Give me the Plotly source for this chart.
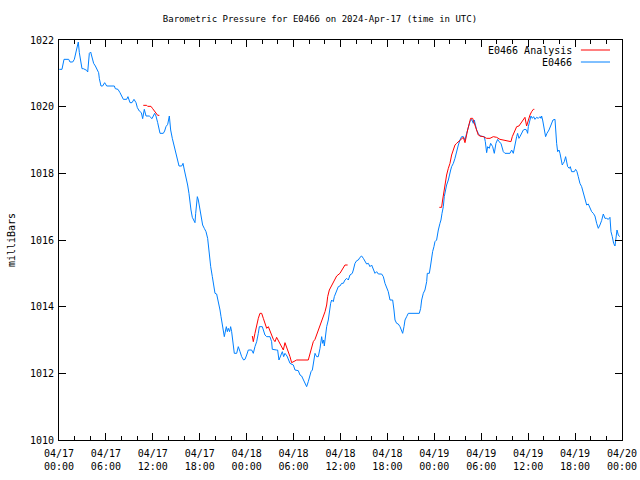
import pandas as pd
import plotly.graph_objects as go

# ---------------- data ----------------
start = pd.Timestamp("2024-04-17 00:00")

obs_hours = [0.04, 0.38, 0.64, 1.24, 1.41, 1.75, 1.96, 2.17, 2.34, 2.47, 2.6, 2.81, 2.94, 3.11, 3.24, 3.54, 3.67,
             3.75, 3.88, 4.05, 4.22, 4.43, 4.65, 4.86, 5.07, 5.16, 5.37, 5.58, 5.84, 6.1, 7.08, 7.2, 7.54, 7.8,
             8.06, 8.23, 8.65, 8.82, 9.08, 9.34, 9.59, 9.85, 10.02, 10.27, 10.53, 10.7, 10.91, 11.13, 11.55,
             11.89, 12.23, 12.4, 12.62, 12.83, 12.92, 13.34, 13.51, 13.68, 13.9, 14.11, 14.28, 14.49, 14.71,
             14.92, 15.13, 15.35, 15.69, 15.86, 16.03, 16.24, 16.45, 16.62, 16.75, 16.88, 17.05, 17.26, 17.39,
             17.48, 17.6, 17.69, 17.82, 18.03, 18.16, 18.37, 18.58, 18.8, 19.01, 19.1, 19.22, 19.4, 19.61,
             19.82, 19.95, 20.16, 20.29, 20.46, 20.59, 20.72, 20.89, 21.01, 21.14, 21.31, 21.4, 21.53, 21.65,
             21.82, 21.95, 22.08, 22.21, 22.34, 22.42, 22.72, 22.85, 22.93, 23.15, 23.36, 23.61, 23.79, 24.0,
             24.21, 24.64, 24.85, 25.06, 25.28, 25.49, 25.62, 26.0, 26.13, 26.34, 26.56, 26.98, 27.19, 27.28,
             27.83, 27.96, 28.13, 28.39, 28.56, 28.73, 28.9, 29.16, 29.33, 29.54, 29.97, 30.18, 30.6, 30.82,
             31.03, 31.24, 31.46, 31.67, 31.88, 32.1, 32.23, 32.4, 32.57, 32.74, 32.95, 33.16, 33.38, 33.59,
             33.72, 33.85, 33.93, 34.02, 34.1, 34.23, 34.44, 34.57, 34.74, 34.87, 35.08, 35.21, 35.38, 35.51,
             35.72, 35.93, 36.15, 36.36, 36.57, 36.79, 37.0, 37.21, 37.51, 37.64, 37.85, 38.07, 38.28, 38.49,
             38.7, 38.92, 39.13, 39.34, 39.56, 39.77, 39.98, 40.2, 40.41, 40.62, 40.84, 41.26, 41.48, 41.69,
             41.9, 42.11, 42.33, 42.67, 42.84, 42.97, 43.18, 43.39, 43.61, 43.82, 43.95, 44.12, 44.25, 44.46,
             44.67, 46.08, 46.25, 46.38, 46.59, 46.8, 47.02, 47.1, 47.36, 47.53, 47.66, 47.78, 47.95, 48.08,
             48.29, 48.38, 48.51, 48.72, 48.85, 48.98, 49.15, 49.27, 49.4, 49.57, 49.79, 49.92, 50.09, 50.21,
             50.43, 50.64, 50.85, 51.07, 51.28, 51.49, 51.71, 51.92, 52.13, 52.34, 52.56, 52.77, 52.98, 53.11,
             53.24, 53.41, 53.62, 53.84, 54.39, 54.52, 54.69, 54.82, 55.03, 55.2, 55.46, 55.67, 55.88, 56.1,
             56.27, 56.52, 56.82, 57.03, 57.67, 57.89, 58.1, 58.31, 58.53, 58.65, 58.82, 58.95, 59.16, 59.38,
             59.59, 59.8, 59.93, 60.02, 60.23, 60.36, 60.53, 60.7, 60.87, 61.08, 61.3, 61.51, 61.64, 61.72,
             61.85, 61.98, 62.15, 62.23, 62.4, 62.66, 62.92, 63.17, 63.43, 63.51, 63.64, 63.77, 63.94, 64.07,
             64.19, 64.36, 64.49, 64.62, 64.79, 64.92, 65.05, 65.26, 65.39, 65.56, 65.9, 66.07, 66.24, 66.41,
             66.62, 66.84, 67.05, 67.26, 67.48, 67.69, 67.9, 68.12, 68.33, 68.54, 68.76, 68.97, 69.18, 69.39,
             69.61, 69.82, 70.03, 70.25, 70.46, 70.59, 70.76, 70.93, 71.1, 71.23, 71.36, 71.53, 71.7]

obs_mb = [1021.12, 1021.12, 1021.42, 1021.42, 1021.34, 1021.34, 1021.42, 1021.62, 1021.82, 1021.94, 1021.62,
          1021.27, 1021.14, 1021.14, 1021.12, 1021.09, 1021.04, 1021.42, 1021.6, 1021.64, 1021.44, 1021.3,
          1021.22, 1021.12, 1021.02, 1020.84, 1020.62, 1020.62, 1020.72, 1020.62, 1020.62, 1020.54, 1020.52,
          1020.42, 1020.32, 1020.22, 1020.22, 1020.3, 1020.12, 1020.12, 1020.22, 1020.12, 1019.97, 1019.87,
          1019.82, 1019.64, 1019.92, 1019.72, 1019.72, 1019.64, 1019.8, 1019.72, 1019.52, 1019.32, 1019.2,
          1019.2, 1019.27, 1019.4, 1019.47, 1019.72, 1019.3, 1019.05, 1018.85, 1018.65, 1018.45, 1018.22,
          1018.22, 1018.3, 1018.1, 1017.9, 1017.65, 1017.4, 1017.1, 1016.9, 1016.68, 1016.6, 1016.52, 1016.8,
          1017.15, 1017.3, 1017.2, 1016.9, 1016.62, 1016.45, 1016.35, 1016.25, 1016.05, 1015.8, 1015.5,
          1015.2, 1014.9, 1014.6, 1014.4, 1014.38, 1014.25, 1014.1, 1013.9, 1013.7, 1013.5, 1013.35, 1013.1,
          1013.3, 1013.4, 1013.25, 1013.35, 1013.25, 1013.4, 1013.25, 1013.0, 1012.8, 1012.6, 1012.6,
          1012.75, 1012.8, 1012.65, 1012.5, 1012.4, 1012.42, 1012.55, 1012.7, 1012.7, 1012.6, 1012.8,
          1012.95, 1013.2, 1013.4, 1013.4, 1013.3, 1013.15, 1013.1, 1013.1, 1012.95, 1012.72, 1012.7,
          1012.7, 1012.4, 1012.58, 1012.65, 1012.5, 1012.6, 1012.52, 1012.4, 1012.3, 1012.25, 1012.1,
          1012.08, 1011.95, 1011.92, 1011.8, 1011.7, 1011.6, 1011.75, 1011.95, 1012.05, 1012.1, 1012.4,
          1012.6, 1012.5, 1012.5, 1012.75, 1013.1, 1012.9, 1013.0, 1012.82, 1013.0, 1013.2, 1013.4, 1013.6,
          1013.9, 1014.1, 1014.2, 1014.15, 1014.3, 1014.4, 1014.5, 1014.6, 1014.62, 1014.7, 1014.7, 1014.8,
          1014.85, 1014.8, 1014.95, 1015.0, 1015.1, 1015.3, 1015.38, 1015.4, 1015.48, 1015.52, 1015.45,
          1015.38, 1015.28, 1015.3, 1015.2, 1015.25, 1015.12, 1015.0, 1015.05, 1014.98, 1014.98, 1014.9,
          1014.7, 1014.55, 1014.45, 1014.2, 1014.2, 1013.9, 1013.6, 1013.5, 1013.48, 1013.4, 1013.3, 1013.2,
          1013.4, 1013.6, 1013.7, 1013.8, 1013.8, 1013.95, 1014.2, 1014.4, 1014.5, 1014.75, 1015.0, 1015.0,
          1015.25, 1015.5, 1015.65, 1015.8, 1015.95, 1016.0, 1016.2, 1016.3, 1016.5, 1016.6, 1016.8, 1017.0,
          1017.3, 1017.5, 1017.65, 1017.8, 1017.9, 1018.1, 1018.2, 1018.3, 1018.45, 1018.7, 1018.85, 1019.0,
          1019.1, 1019.1, 1019.0, 1019.2, 1019.4, 1019.55, 1019.62, 1019.5, 1019.6, 1019.45, 1019.3, 1019.2,
          1019.12, 1019.1, 1018.95, 1018.62, 1018.8, 1018.75, 1018.9, 1018.8, 1018.6, 1018.9, 1019.02,
          1018.95, 1018.9, 1018.65, 1018.6, 1018.6, 1018.7, 1018.6, 1018.9, 1019.1, 1019.2, 1019.05, 1019.1,
          1019.2, 1019.3, 1019.32, 1019.3, 1019.2, 1019.4, 1019.6, 1019.72, 1019.65, 1019.7, 1019.62,
          1019.68, 1019.65, 1019.7, 1019.65, 1019.72, 1019.6, 1019.4, 1019.2, 1019.1, 1019.2, 1019.3,
          1019.45, 1019.6, 1019.62, 1019.3, 1018.9, 1018.65, 1018.7, 1018.6, 1018.45, 1018.25, 1018.3,
          1018.35, 1018.5, 1018.3, 1018.2, 1018.15, 1018.2, 1018.05, 1018.05, 1018.12, 1018.05, 1017.9,
          1017.7, 1017.6, 1017.4, 1017.2, 1017.05, 1017.08, 1016.95, 1016.85, 1016.8, 1016.72, 1016.5,
          1016.35, 1016.45, 1016.58, 1016.78, 1016.65, 1016.65, 1016.62, 1016.68, 1016.25, 1016.1, 1015.9,
          1015.82, 1016.1, 1016.3, 1016.15, 1016.1]

# analysis series (None = gap between analysis runs)
ana_hours = [10.78, 11.21, 11.34, 11.76, 11.98, 12.19, 12.4, 12.62, 12.83, None,
             24.72, 24.85, 25.06, 25.28, 25.49, 25.7, 25.92, 26.13, 26.34, 26.56, 26.77, 26.98, 27.19, 27.41,
             27.62, 27.83, 28.05, 28.26, 28.47, 28.69, 28.9, 29.11, 29.33, 29.54, 29.75, 29.97, 30.39, 31.88,
             32.1, 32.31, 32.52, 32.74, 32.95, 33.16, 33.38, 33.59, 33.8, 34.02, 34.23, 34.36, 34.57, 34.78,
             35.08, 35.29, 35.51, 35.93, 36.15, 36.36, 36.57, 36.91, None,
             48.64, 48.93, 49.06, 49.23, 49.36, 49.57, 49.79, 50.0, 50.21, 50.43, 50.64, 50.85, 51.07, 51.36,
             51.71, 51.92, 52.05, 52.26, 52.47, 52.64, 52.9, 53.2, 53.41, 53.62, 53.84, 54.26, 54.69, 55.12,
             55.54, 55.97, 56.39, 56.82, 57.46, 57.8, 57.97, 58.23, 58.53, 58.82, 59.08, 59.38, 59.59, 59.8,
             60.02, 60.23, 60.44, 60.66, 60.79]

ana_mb = [1020.04, 1020.04, 1020.01, 1020.01, 1019.94, 1019.87, 1019.8, 1019.74, 1019.74, None,
          1013.12, 1012.95, 1013.2, 1013.45, 1013.65, 1013.8, 1013.8, 1013.65, 1013.5, 1013.35, 1013.4,
          1013.3, 1013.15, 1013.02, 1012.95, 1013.08, 1012.98, 1012.9, 1012.8, 1012.7, 1012.92, 1012.8,
          1012.65, 1012.5, 1012.32, 1012.35, 1012.4, 1012.4, 1012.6, 1012.8, 1012.95, 1013.02, 1013.15,
          1013.3, 1013.42, 1013.55, 1013.7, 1013.85, 1014.05, 1014.3, 1014.5, 1014.6, 1014.7, 1014.8,
          1014.92, 1015.0, 1015.08, 1015.15, 1015.25, 1015.25, None,
          1016.98, 1016.98, 1017.2, 1017.5, 1017.7, 1017.95, 1018.15, 1018.3, 1018.55, 1018.7, 1018.85,
          1018.9, 1018.95, 1019.0, 1019.08, 1018.92, 1019.1, 1019.3, 1019.5, 1019.65, 1019.65, 1019.45,
          1019.25, 1019.15, 1019.12, 1019.1, 1019.05, 1019.05, 1019.1, 1019.08, 1019.02, 1019.0, 1018.95,
          1018.95, 1019.1, 1019.25, 1019.4, 1019.42, 1019.5, 1019.6, 1019.68, 1019.42, 1019.6, 1019.75,
          1019.85, 1019.92, 1019.92]

tick_hours = [0, 6, 12, 18, 24, 30, 36, 42, 48, 54, 60, 66, 72]
tick_labels = ["04/17<br>00:00", "04/17<br>06:00", "04/17<br>12:00", "04/17<br>18:00",
               "04/18<br>00:00", "04/18<br>06:00", "04/18<br>12:00", "04/18<br>18:00",
               "04/19<br>00:00", "04/19<br>06:00", "04/19<br>12:00", "04/19<br>18:00",
               "04/20<br>00:00"]
y_ticks = [1010, 1012, 1014, 1016, 1018, 1020, 1022]

series_names = ["E0466 Analysis", "E0466"]
series_colors = ["#ff0000", "#0080ff"]


def to_time(hours):
    return [None if h is None else start + pd.Timedelta(hours=h) for h in hours]


FONT = "DejaVu Sans Mono"

fig = go.Figure()
fig.add_trace(go.Scatter(x=to_time(obs_hours), y=obs_mb, mode="lines", name=series_names[1],
                         line=dict(color=series_colors[1], width=1), connectgaps=False))
fig.add_trace(go.Scatter(x=to_time(ana_hours), y=ana_mb, mode="lines", name=series_names[0],
                         line=dict(color=series_colors[0], width=1), connectgaps=False))

# legend drawn gnuplot-style (text left of sample line)
for i, (nm, col) in enumerate(zip(series_names, series_colors)):
    yp = 0.975 - i * 0.03
    fig.add_annotation(xref="paper", yref="paper", x=0.9147, y=yp, text=nm, showarrow=False,
                       xanchor="right", yanchor="middle", font=dict(family=FONT, size=10, color="black"))
    fig.add_shape(type="line", xref="paper", yref="paper", x0=0.927, x1=0.9787, y0=yp, y1=yp,
                  line=dict(color=col, width=1))

fig.update_layout(
    width=640, height=480,
    margin=dict(l=59, r=18, t=40, b=40),
    paper_bgcolor="white", plot_bgcolor="white",
    showlegend=False,
    title=dict(text="Barometric Pressure for E0466 on 2024-Apr-17 (time in UTC)", x=0.5, xanchor="center",
               y=1 - 19 / 480, yanchor="middle", font=dict(family=FONT, size=9, color="black")),
    font=dict(family=FONT, size=10, color="black"),
)
fig.update_xaxes(
    range=[start, start + pd.Timedelta(hours=72)], automargin=False,
    tickvals=to_time(tick_hours), ticktext=tick_labels,
    ticks="inside", ticklen=7, tickcolor="black", tickwidth=1, ticklabelstandoff=4,
    minor=dict(ticks="inside", ticklen=4, dtick=2 * 3600 * 1000, tickcolor="black", tickwidth=1),
    showline=True, linecolor="black", linewidth=1, mirror="allticks",
    showgrid=False, zeroline=False, tickfont=dict(family=FONT, size=10),
)
fig.update_yaxes(
    range=[1010, 1022], automargin=False, tickvals=y_ticks, ticktext=[str(v) for v in y_ticks],
    ticks="inside", ticklen=7, tickcolor="black", tickwidth=1, ticklabelstandoff=2,
    showline=True, linecolor="black", linewidth=1, mirror="allticks",
    showgrid=False, zeroline=False, tickfont=dict(family=FONT, size=10),
    title=dict(text="milliBars", font=dict(family=FONT, size=10), standoff=12),
)

fig.write_html("out.html")
